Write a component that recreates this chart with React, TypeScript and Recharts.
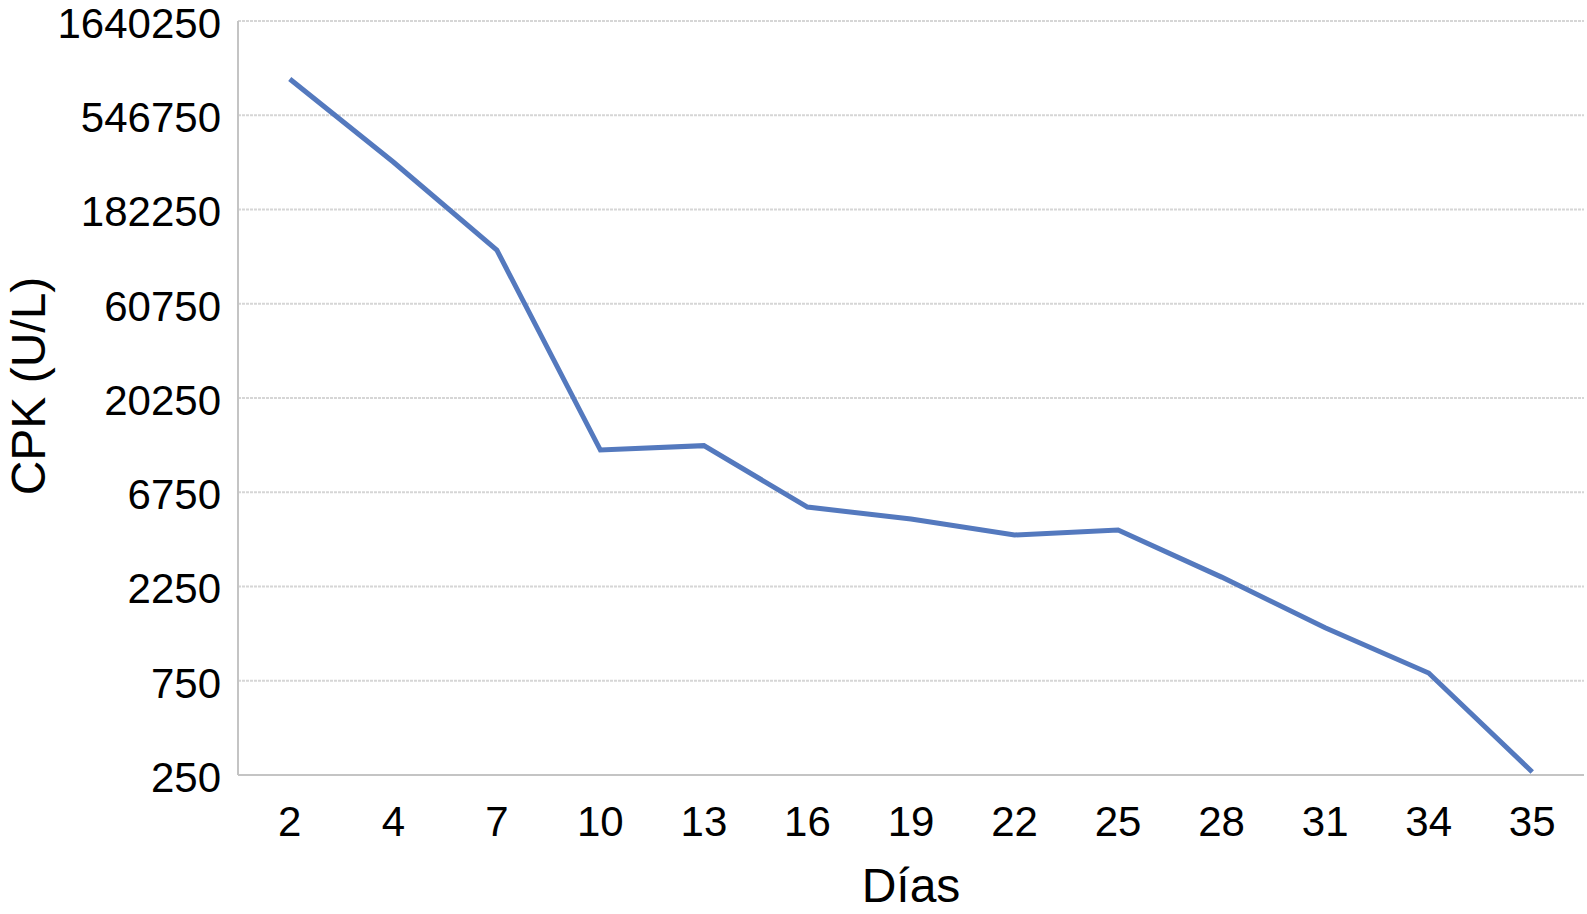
import { CartesianGrid, Label, Line, LineChart, XAxis, YAxis } from "recharts";

const days = ["2", "4", "7", "10", "13", "16", "19", "22", "25", "28", "31", "34", "35"];
const cpk = [834000, 317000, 113600, 11040, 11620, 5680, 4940, 4100, 4350, 2510, 1390, 821, 259];
const yTicks = [250, 750, 2250, 6750, 20250, 60750, 182250, 546750, 1640250];

const data = days.map((d, i) => ({ day: d, cpk: cpk[i] }));

const font = "'Liberation Sans', Arial, sans-serif";

const YTitle = (props: any) => {
    const { viewBox } = props;
    const x = viewBox.x + 28;
    const y = viewBox.y + viewBox.height / 2 - 12;
    return (
        <text
            x={x}
            y={y}
            transform={`rotate(-90 ${x} ${y})`}
            textAnchor="middle"
            dominantBaseline="central"
            fontSize={48}
            fontFamily={font}
            fill="#000"
        >
            CPK (U/L)
        </text>
    );
};

export default function App() {
    return (
        <div style={{ position: "absolute", left: 0, top: 0, background: "#fff" }}>
            <LineChart
                width={1587}
                height={914}
                data={data}
                margin={{ top: 21, right: 3, bottom: 0, left: 0 }}
            >
                <CartesianGrid vertical={false} stroke="#d6d6d6" strokeDasharray="3 1" strokeWidth={2} />
                <XAxis
                    dataKey="day"
                    scale="band"
                    height={139}
                    stroke="#c4c4c4"
                    strokeWidth={2}
                    tickLine={false}
                    tickMargin={25}
                    tick={{ fill: "#000", fontSize: 42, fontFamily: font }}
                >
                    <Label
                        value="Días"
                        position="insideBottom"
                        offset={12}
                        style={{ fill: "#000", fontSize: 48, fontFamily: font }}
                    />
                </XAxis>
                <YAxis
                    scale="log"
                    domain={[250, 1640250]}
                    ticks={yTicks}
                    interval={0}
                    width={238}
                    stroke="#c4c4c4"
                    strokeWidth={2}
                    tickLine={false}
                    tickMargin={11}
                    tick={{ fill: "#000", fontSize: 42, fontFamily: font, dy: 2 }}
                    allowDataOverflow
                >
                    <Label content={<YTitle />} />
                </YAxis>
                <YAxis
                    yAxisId="right"
                    orientation="right"
                    width={0}
                    tick={false}
                    tickLine={false}
                    stroke="#d6d6d6"
                    strokeWidth={2}
                />
                <Line
                    dataKey="cpk"
                    stroke="#5479be"
                    strokeWidth={5}
                    dot={false}
                    isAnimationActive={false}
                />
            </LineChart>
        </div>
    );
}
